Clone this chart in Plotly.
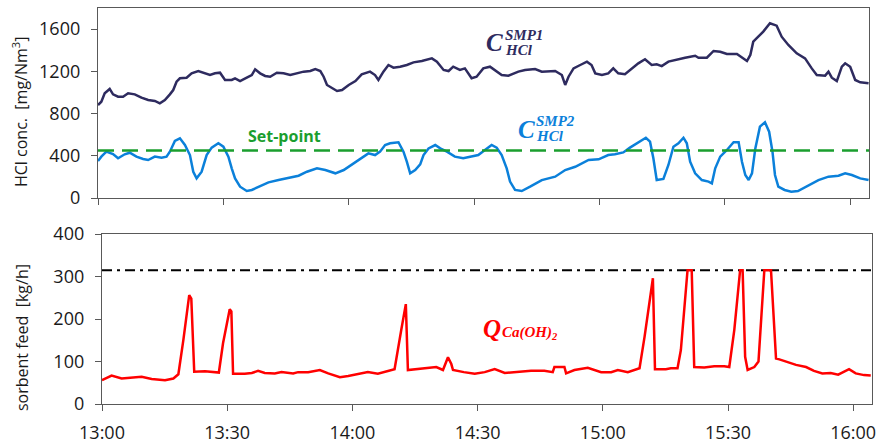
import pandas as pd
import plotly.graph_objects as go

# ---------------- data (minutes after 13:00, values) ----------------
t_smp1 = [0,0.8,1.6,2.8,3.6,4.8,6,7.2,8.8,10.4,
          12,13.6,14.8,16,17.2,18,18.8,19.6,21.2,22.4,
          24,25.6,26.8,28,29.2,30.4,32,32.8,34,35.6,
          36.8,37.6,38.8,40,41.2,42.8,44.4,46,47.6,49.2,
          50.8,52,53.2,54,54.8,56,57.2,58.4,60,61.6,
          63.1,65.1,66.3,67.1,68.3,69.5,70.7,72.3,73.9,75.5,
          77.5,79.9,81.1,82.7,83.9,85,86.6,87.8,89.4,90.6,
          92.2,93.8,95,96.6,98.2,100.6,102.2,104.6,106.2,109.4,
          111,111.8,112.6,113.8,115.4,117,118.1,119,120.6,122.1,
          123.3,124.5,126.1,127.7,129.3,130.9,132.5,133.7,134.9,136.5,
          138.5,140.5,142.9,143.7,145.7,147.3,148.9,150.5,152.9,154.5,
          155.3,156.1,156.8,158,159.2,160.8,162.4,163.6,165.2,167.2,
          169.2,170.8,172,174,174.8,175.6,176.8,178,178.8,180,
          181.2,182.4,184.4]
c_smp1 = [881,912,992,1033,982,960,960,992,982,950,
          928,920,897,928,982,1023,1102,1134,1140,1181,
          1203,1181,1165,1181,1187,1118,1118,1134,1108,1140,
          1165,1219,1181,1156,1149,1187,1181,1165,1181,1197,
          1203,1222,1203,1149,1071,1039,1014,1023,1071,1108,
          1172,1197,1165,1118,1197,1260,1235,1244,1260,1285,
          1298,1323,1292,1213,1203,1244,1213,1228,1134,1149,
          1228,1244,1213,1165,1159,1197,1213,1222,1197,1203,
          1165,1071,1149,1228,1260,1292,1260,1181,1165,1181,
          1228,1181,1172,1228,1276,1314,1260,1266,1250,1292,
          1307,1329,1348,1329,1329,1393,1386,1364,1364,1317,
          1298,1355,1481,1528,1576,1655,1633,1528,1450,1371,
          1323,1228,1165,1159,1197,1140,1108,1244,1276,1244,
          1118,1096,1087]

t_smp2 = [0,0.8,2,3.6,4.8,6.4,7.6,9.2,10.8,12,
          13.6,15.2,16.4,17.2,18.4,19.6,20.8,22,22.8,23.6,
          24.8,26,27.2,28.8,30,31.2,32,32.8,34,35.6,
          36.8,38.4,40.8,43.2,45.6,48,50,52.4,54.4,56.8,
          58.8,60.8,62.2,63.1,64.7,66.3,67.5,68.7,69.9,71.9,
          73.1,73.9,74.7,75.9,77.1,77.9,79.1,80.7,81.9,83.5,
          85.4,87.4,89.4,91,92.6,94.2,95.4,96.6,97.8,98.6,
          99.8,101.4,103.4,106.2,109.4,111.8,114.2,117.4,119.8,122.1,
          123.7,125.7,127.3,128.9,130.1,131.1,132.1,132.9,133.7,135.3,
          136.5,137.7,138.9,140.1,140.9,141.7,142.9,144.5,146.1,146.9,
          147.7,148.9,150.5,152.1,153.3,154.1,154.9,155.7,156.5,157.3,
          158.4,159.6,160.6,161.4,162,162.8,164.3,165.9,167.5,170,
          172.4,174.8,177.2,178.8,180.4,182.4,184.4]
c_smp2 = [351,392,439,417,376,414,429,392,370,360,
          392,382,392,439,540,565,502,407,249,186,
          249,407,477,518,486,392,281,186,107,66,
          76,107,148,170,193,211,249,281,265,234,
          265,319,350,376,423,407,439,502,518,528,
          439,344,234,265,319,407,470,502,470,439,
          392,376,392,407,455,502,477,407,281,155,
          76,66,107,170,202,265,296,360,366,407,
          414,432,477,518,549,571,534,376,170,180,
          313,486,518,571,518,344,234,170,155,139,
          281,392,455,528,528,344,218,170,234,470,
          676,717,628,439,218,107,76,60,66,123,
          170,202,211,234,218,186,170]

t_feed = [0,2.3,4.7,7.1,9.5,11.9,15.1,17.1,18.3,19.5,
          20.9,21.4,22.1,24.7,28,29,30.6,31,31.4,34.2,
          35.9,37.4,39,41.4,43,45.8,47,49.4,52.2,54.2,
          57,59,61.4,63.7,66.1,69.3,70.1,71.7,72.8,73.3,
          76.5,80.1,81.7,82.9,83.7,84.1,86.7,89.3,91.7,94.1,
          96.5,99.7,102.8,106,108,108.4,110.8,111.2,113.2,116.4,
          118,119.6,122,123.6,126,127.6,128.8,130,132,132.5,
          135.1,136.3,137.9,138.7,140.3,141.3,141.9,144.3,146.7,149.1,
          150.3,151.5,152.9,153.5,154.1,154.7,156.3,157.3,158,158.7,
          160.3,161.5,162.3,164.3,166.3,168.7,170.6,172.6,174.6,176.4,
          177.8,179,180.6,182.6,184.2]
q_feed = [56,67,60,62,64,59,56,60,70,151,
          256,248,76,77,74,143,223,218,71,71,
          73,78,73,72,75,72,75,75,80,72,
          63,66,71,75,71,80,82,174,235,80,
          84,87,80,110,94,80,75,71,75,82,
          73,75,78,78,75,87,87,72,80,85,
          80,75,75,80,75,80,84,158,296,82,
          82,84,84,127,315,315,87,86,89,89,
          87,174,315,315,111,80,87,100,198,315,
          315,107,105,98,92,87,78,72,73,69,
          75,82,72,68,67]

setpoint = 450
feed_max = 315
x_end_min = 184.5
tick_labels = ["13:00", "13:30", "14:00", "14:30", "15:00", "15:30", "16:00"]

# ---------------- helpers ----------------
base = pd.Timestamp("2023-01-01 13:00:00")
def tt(mins):
    return [base + pd.Timedelta(minutes=m) for m in mins]

tickvals = [base + pd.Timedelta(minutes=30 * i) for i in range(len(tick_labels))]
x_range = [base, base + pd.Timedelta(minutes=x_end_min)]

W, H = 879, 445
ML, MR, MT, MB = 98, 7, 8, 41
PW, PH = W - ML - MR, H - MT - MB
def px(x):
    return (x - ML) / PW
def py(y):
    return (H - MB - y) / PH

NAVY = "#2E2B5F"
BLUE = "#0B80DA"
GREEN = "#1A9E2E"
RED = "#FF0000"
AX = "#595959"
FONT = "Open Sans"

fig = go.Figure()
fig.add_trace(go.Scatter(x=tt(t_smp1), y=c_smp1, mode="lines",
                         line=dict(color=NAVY, width=2.5), xaxis="x", yaxis="y"))
fig.add_trace(go.Scatter(x=tt(t_smp2), y=c_smp2, mode="lines",
                         line=dict(color=BLUE, width=2.5), xaxis="x", yaxis="y"))
fig.add_trace(go.Scatter(x=x_range, y=[setpoint, setpoint], mode="lines",
                         line=dict(color=GREEN, width=2.5, dash="16px,8px"),
                         xaxis="x", yaxis="y"))
fig.add_trace(go.Scatter(x=x_range, y=[feed_max, feed_max], mode="lines",
                         line=dict(color="black", width=2, dash="10px,5px,3px,5px"),
                         xaxis="x2", yaxis="y2"))
fig.add_trace(go.Scatter(x=tt(t_feed), y=q_feed, mode="lines",
                         line=dict(color=RED, width=2.5), xaxis="x2", yaxis="y2"))

axis_common = dict(showline=True, linecolor=AX, linewidth=1.3, mirror=True,
                   showgrid=False, zeroline=False, ticks="outside",
                   ticklen=6, tickcolor=AX, tickwidth=1.3, automargin=False)

top_y0 = py(198)
bot_y1 = py(234)

fig.update_layout(
    width=W, height=H, margin=dict(l=ML, r=MR, t=MT, b=MB, autoexpand=False),
    paper_bgcolor="white", plot_bgcolor="white", showlegend=False,
    font=dict(family=FONT, size=18, color="#1a1a1a"),
    xaxis=dict(domain=[0, px(869)], anchor="y", type="date", range=x_range,
               tickvals=tickvals, showticklabels=False, **axis_common),
    yaxis=dict(domain=[top_y0, 1], anchor="x", range=[0, 1800],
               tickvals=[0, 400, 800, 1200, 1600], ticklabelstandoff=7,
               **axis_common),
    xaxis2=dict(domain=[px(102), 1], anchor="y2", type="date", range=x_range,
                tickvals=tickvals, ticktext=tick_labels, ticklabelstandoff=6,
                **axis_common),
    yaxis2=dict(domain=[0, bot_y1], anchor="x2", range=[0, 400],
                tickvals=[0, 100, 200, 300, 400], ticklabelstandoff=7,
                **axis_common),
)

ann = []
def A(text, x, y, size, color, xanchor="center", family=FONT, angle=0):
    ann.append(dict(text=text, x=px(x), y=py(y), xref="paper", yref="paper",
                    xanchor=xanchor, yanchor="middle", showarrow=False,
                    textangle=angle, font=dict(size=size, color=color, family=family)))

SERIF = "Liberation Serif"
# axis titles
A("HCl conc.  [mg/Nm<sup>3</sup>]", 20, 112, 16, "#1a1a1a", angle=-90)
A("sorbent feed  [kg/h]", 22, 338, 16, "#1a1a1a", angle=-90)
# series labels
A("<b><i>C</i></b>", 495, 43, 25, NAVY, family=SERIF)
A("<b><i>SMP1</i></b>", 503, 35, 15, NAVY, xanchor="left", family=SERIF)
A("<b><i>HCl</i></b>", 503, 50, 15, NAVY, xanchor="left", family=SERIF)
A("<b><i>C</i></b>", 526, 129, 25, BLUE, family=SERIF)
A("<b><i>SMP2</i></b>", 534, 121, 15, BLUE, xanchor="left", family=SERIF)
A("<b><i>HCl</i></b>", 534, 136, 15, BLUE, xanchor="left", family=SERIF)
A("<b>Set-point</b>", 284, 136, 16, GREEN)
A("<b><i>Q</i></b>", 492, 328, 25, RED, family=SERIF)
A("<b><i>Ca(OH)<sub>2</sub></i></b>", 500, 333, 15, RED, xanchor="left", family=SERIF)

fig.update_layout(annotations=ann)
fig.write_html("out.html", config={"displayModeBar": False},
               post_script="document.body.style.margin='0';document.body.style.overflow='hidden';")
